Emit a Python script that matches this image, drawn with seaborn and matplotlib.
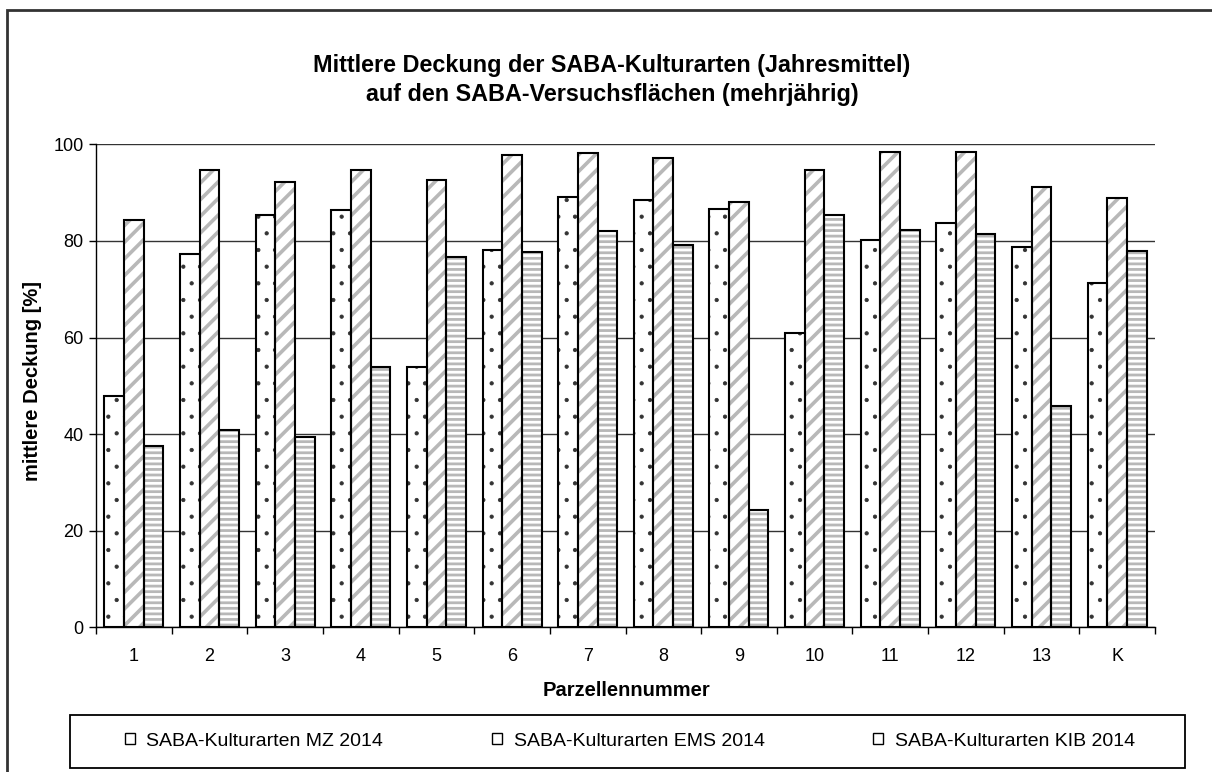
import matplotlib
matplotlib.use("Agg")
import matplotlib.pyplot as plt
from matplotlib.patches import Rectangle, Patch
from matplotlib.ticker import FixedLocator
import seaborn as sns
import pandas as pd
import numpy as np

categories = ["1", "2", "3", "4", "5", "6", "7", "8", "9", "10", "11", "12", "13", "K"]
series_names = ["SABA-Kulturarten MZ 2014", "SABA-Kulturarten EMS 2014", "SABA-Kulturarten KIB 2014"]
mz = [47.9, 77.2, 85.3, 86.3, 53.8, 78.2, 89.1, 88.5, 86.6, 61.0, 80.1, 83.8, 78.8, 71.2]
ems = [84.4, 94.7, 92.2, 94.7, 92.7, 97.8, 98.1, 97.1, 88.1, 94.7, 98.5, 98.5, 91.2, 88.8]
kib = [37.5, 40.8, 39.4, 53.8, 76.6, 77.8, 82.0, 79.1, 24.3, 85.3, 82.3, 81.5, 45.8, 77.9]
yticks = [0, 20, 40, 60, 80, 100]

sns.set_theme(style="white")
plt.rcParams['font.family'] = ['Liberation Sans', 'DejaVu Sans']
plt.rcParams['text.color'] = 'black'
plt.rcParams['axes.labelcolor'] = 'black'
plt.rcParams['xtick.color'] = 'black'
plt.rcParams['ytick.color'] = 'black'

per_patch_lw = hasattr(Rectangle((0, 0), 1, 1), "set_hatch_linewidth")
plt.rcParams['hatch.linewidth'] = 1.0 if per_patch_lw else 1.8

df = pd.DataFrame({
    "Parzelle": categories * 3,
    "Serie": [series_names[0]] * len(categories) + [series_names[1]] * len(categories) + [series_names[2]] * len(categories),
    "Wert": mz + ems + kib,
})

fig = plt.figure(figsize=(12.12, 7.72), dpi=100)
ax = fig.add_axes([96 / 1212, 1 - 627.4 / 772, (1155 - 96) / 1212, (627.4 - 144.3) / 772])

sns.barplot(data=df, x="Parzelle", y="Wert", hue="Serie", order=categories,
            hue_order=series_names, palette=["white"] * 3, width=0.78,
            ax=ax, legend=False, errorbar=None, zorder=3)

hatches = ['.', '//', '---']
hcolors = ['#333333', '#b8b8b8', '#b8b8b8']
hlw = [0.6, 2.6, 2.0]
for cont, h, hc, lw in zip(ax.containers, hatches, hcolors, hlw):
    for p in cont.patches:
        p.set_hatch(h)
        p.set_edgecolor(hc)
        p.set_linewidth(0)
        if per_patch_lw:
            p.set_hatch_linewidth(lw)
        outline = Rectangle(p.get_xy(), p.get_width(), p.get_height(), fill=False,
                            edgecolor='black', linewidth=1.5, zorder=4)
        ax.add_patch(outline)

ax.set_ylim(0, 100)
ax.set_xlim(-0.5, len(categories) - 0.5)
ax.set_yticks(yticks)
ax.set_yticklabels([str(v) for v in yticks])
ax.yaxis.grid(True, color='#333333', linewidth=1.0, zorder=0)
ax.xaxis.grid(False)
ax.set_axisbelow(True)

for s in ['top', 'right']:
    ax.spines[s].set_visible(False)
for s in ['left', 'bottom']:
    ax.spines[s].set_visible(True)
    ax.spines[s].set_color('black')
    ax.spines[s].set_linewidth(1.0)

ax.tick_params(axis='y', which='major', direction='out', length=5, width=1, color='black',
               left=True, labelsize=13, pad=4)
ax.tick_params(axis='x', which='major', length=0, labelsize=13, pad=15)
ax.xaxis.set_minor_locator(FixedLocator(np.arange(-0.5, len(categories), 1.0)))
ax.tick_params(axis='x', which='minor', direction='out', length=5, width=1, color='black', bottom=True)

ax.set_xlabel("Parzellennummer", fontsize=14.5, fontweight='bold')
ax.set_ylabel("mittlere Deckung [%]", fontsize=14.5, fontweight='bold')
ax.xaxis.set_label_coords((626 - 96) / 1059, (627.4 - 681) / 483)
ax.yaxis.set_label_coords((42 - 96) / 1059, 0.51)

fig.text(612 / 1212, 1 - 80 / 772, "Mittlere Deckung der SABA-Kulturarten (Jahresmittel)\nauf den SABA-Versuchsflächen (mehrjährig)",
         ha='center', va='center', fontsize=16.8, fontweight='bold', linespacing=1.28)

# outer frame
fig.patches.append(Rectangle((7 / 1212, -0.1), 1.2, 1 - 10 / 772 + 0.1, transform=fig.transFigure,
                             fill=False, edgecolor='#333333', linewidth=2, zorder=10))
# legend frame
fig.patches.append(Rectangle((70 / 1212, 1 - 768 / 772), (1185 - 70) / 1212, (768 - 715) / 772,
                             transform=fig.transFigure, fill=False, edgecolor='black', linewidth=1.3, zorder=10))

handles = [Patch(facecolor='white', edgecolor='black', linewidth=1.0) for _ in series_names]
leg = fig.legend(handles, series_names, loc='center', bbox_to_anchor=(630 / 1212, 1 - 741 / 772),
                 ncol=3, frameon=False, fontsize=14, handlelength=0.5, handleheight=0.5,
                 handletextpad=0.6, columnspacing=5.6)

fig.savefig("out.png", dpi=100)
